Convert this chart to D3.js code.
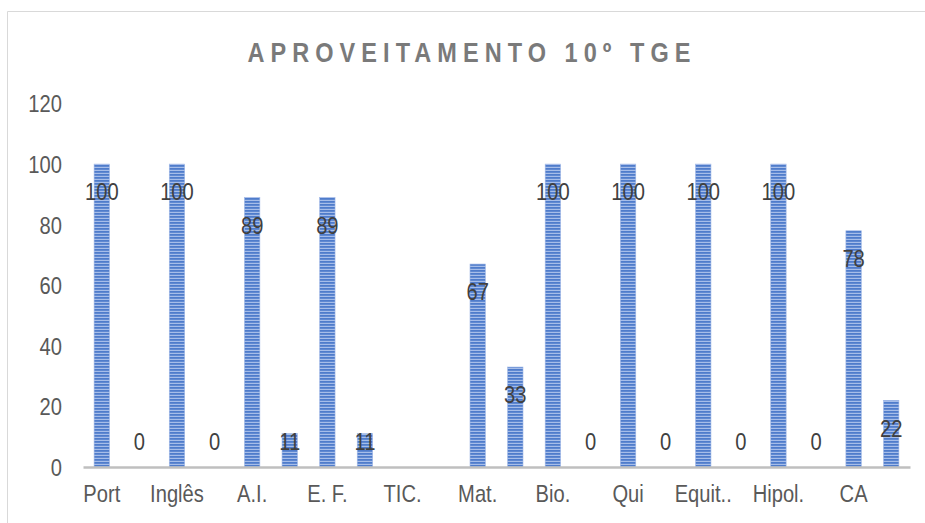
<!DOCTYPE html>
<html><head><meta charset="utf-8">
<script src="https://cdn.jsdelivr.net/npm/d3@7"></script>
<style>
html,body{margin:0;padding:0;background:#fff;}
svg{display:block;font-family:"Liberation Sans",Arial,sans-serif;}
</style></head>
<body>
<svg id="c" width="925" height="523"></svg>
<script>
// Data
const subjects = ["Port","Inglês","A.I.","E. F.","TIC.","Mat.","Bio.","Qui","Equit..","Hipol.","CA"];
const aprovados = [100,100,89,89,null,67,100,100,100,100,78];
const naoAprovados = [0,0,11,11,null,33,0,0,0,0,22];
const yTicks = [0,20,40,60,80,100,120];
const title = "APROVEITAMENTO 10º TGE";

// 22 slots: each subject followed by its second value (label of second slot hidden)
const slots = [];
subjects.forEach((s,i)=>{
  slots.push({key:s, label:s, v:aprovados[i]});
  slots.push({key:s+"_2", label:"", v:naoAprovados[i]});
});

const svg = d3.select("#c");
const SX = 0.84; // horizontal condensing of text

// border
svg.append("path").attr("d","M7.5,523 L7.5,11.5 L925,11.5").attr("fill","none").attr("stroke","#d9d9d9").attr("stroke-width",1);

// pattern
const defs=svg.append("defs");
const pat=defs.append("pattern").attr("id","stripe").attr("patternUnits","userSpaceOnUse").attr("width",8).attr("height",3);
pat.append("rect").attr("width",8).attr("height",3).attr("fill","#a6bde9");
pat.append("rect").attr("width",8).attr("height",1.8).attr("fill","#4f7ccb");

const x=d3.scaleBand().domain(slots.map(d=>d.key)).range([83,910]).paddingInner(0).paddingOuter(0);
const y=d3.scaleLinear().domain([0,120]).range([467,103.5]);
const bw=x.bandwidth()*0.41;

// title
svg.append("text").attr("transform","translate(472,62) scale("+SX+",1)").attr("text-anchor","middle")
  .attr("font-size",28).attr("font-weight","bold").attr("letter-spacing",7.2)
  .attr("fill","#7a7a7a").text(title);

// y axis
const yAxis=d3.axisLeft(y).tickValues(yTicks).tickSize(0).tickPadding(0);
const gy=svg.append("g").attr("transform","translate(62,0)").call(yAxis);
gy.select(".domain").remove();
gy.selectAll("text").attr("font-size",24).attr("fill","#595959").attr("font-family","inherit").attr("dy","0.35em")
  .attr("transform","scale("+SX+",1)");

// bars
const valid=slots.filter(d=>d.v!==null);
svg.append("g").selectAll("rect").data(valid).join("rect")
  .attr("x",d=>x(d.key)+x.bandwidth()/2-bw/2)
  .attr("width",bw)
  .attr("y",d=>y(d.v))
  .attr("height",d=>y(0)-y(d.v))
  .attr("fill","url(#stripe)")
  .attr("stroke","#9fb7e6").attr("stroke-width",0.6);

// x axis
const xAxis=d3.axisBottom(x).tickSize(0).tickPadding(0).tickFormat(k=>{const s=slots.find(d=>d.key===k);return s.label;});
const gx=svg.append("g").attr("transform","translate(0,467)").call(xAxis);
gx.select(".domain").attr("stroke","#bfbfbf").attr("stroke-width",2.5);
gx.selectAll("text").attr("font-size",24).attr("fill","#595959").attr("font-family","inherit").attr("y",0).attr("dy","1.47em")
  .attr("transform","scale("+SX+",1)");

// data labels
svg.append("g").selectAll("text").data(valid).join("text")
  .attr("transform",d=>"translate("+(x(d.key)+x.bandwidth()/2)+","+Math.min(y(d.v)+28,y(0)-25)+") scale("+SX+",1)")
  .attr("dy","0.35em")
  .attr("text-anchor","middle")
  .attr("font-size",24).attr("fill","#404040")
  .text(d=>d.v);
</script>
</body></html>
